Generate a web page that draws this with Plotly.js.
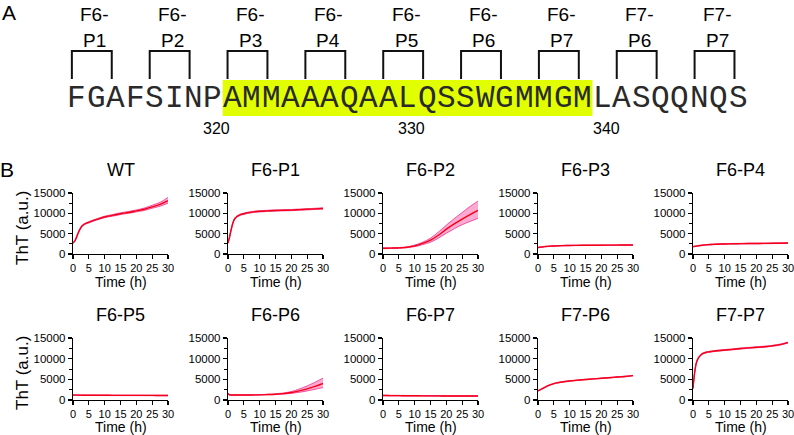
<!DOCTYPE html>
<html>
<head>
<meta charset="utf-8">
<script src="https://cdn.plot.ly/plotly-3.0.1.min.js"></script>
<style>html,body{margin:0;padding:0;background:#fff;}#chart{width:794px;height:435px;}</style>
</head>
<body>
<div id="chart"></div>
<script>
// ---------- Panel A data ----------
const sequence = "FGAFSINPAMMAAAQAALQSSWGMMGMLASQQNQS";
const highlightStart = 8;   // first highlighted residue index
const highlightEnd = 27;    // index after last highlighted residue
const peptideLines1 = ["F6-", "F6-", "F6-", "F6-", "F6-", "F6-", "F6-", "F7-", "F7-"];
const peptideLines2 = ["P1", "P2", "P3", "P4", "P5", "P6", "P7", "P6", "P7"];
const residueLabels = ["320", "330", "340"];
const residueLabelPos = [7.7, 17.7, 27.7];

// ---------- Panel B data ----------
const panelNames = ["WT", "F6-P1", "F6-P2", "F6-P3", "F6-P4", "F6-P5", "F6-P6", "F6-P7", "F7-P6", "F7-P7"];
const time = [0, 0.5, 1, 1.5, 2, 2.5, 3, 4, 5, 6, 7.5, 10, 12.5, 15, 17.5, 20, 22.5, 25, 27.5, 30];

const wtMean  = [2700, 3100, 3900, 4900, 5800, 6500, 7000, 7500, 7800, 8100, 8500, 9100, 9500, 9900, 10200, 10600, 11000, 11600, 12200, 13100];
const wtLow   = [2600, 3000, 3750, 4750, 5650, 6350, 6850, 7350, 7650, 7950, 8350, 8950, 9300, 9700, 10000, 10350, 10700, 11250, 11750, 12500];
const wtHigh  = [2800, 3200, 4050, 5050, 5950, 6650, 7150, 7650, 7950, 8250, 8650, 9300, 9700, 10150, 10450, 10850, 11300, 12000, 12700, 13900];

const p1Mean  = [2700, 4200, 6000, 7500, 8500, 9000, 9300, 9700, 9900, 10100, 10300, 10500, 10600, 10700, 10750, 10800, 10900, 11000, 11100, 11200];
const p1Low   = [2600, 4050, 5850, 7350, 8350, 8850, 9150, 9550, 9750, 9950, 10150, 10350, 10450, 10550, 10600, 10650, 10750, 10850, 10950, 11050];
const p1High  = [2800, 4350, 6150, 7650, 8650, 9150, 9450, 9850, 10050, 10250, 10450, 10650, 10750, 10850, 10900, 10950, 11050, 11150, 11250, 11350];

const p2Mean  = [1400, 1400, 1420, 1430, 1440, 1450, 1460, 1480, 1500, 1550, 1650, 2000, 2600, 3400, 4600, 6100, 7400, 8600, 9700, 10700];
const p2Low   = [1300, 1300, 1320, 1330, 1340, 1350, 1360, 1380, 1400, 1450, 1550, 1800, 2300, 2900, 3900, 5100, 6200, 7200, 8000, 8800];
const p2High  = [1500, 1500, 1520, 1530, 1540, 1550, 1560, 1580, 1600, 1650, 1750, 2200, 2900, 3900, 5400, 7100, 8700, 10200, 11700, 13000];

const p3Mean  = [1600, 1650, 1700, 1750, 1800, 1850, 1880, 1930, 1970, 2000, 2050, 2100, 2120, 2150, 2160, 2170, 2180, 2190, 2200, 2200];
const p3Low   = [1540, 1590, 1640, 1690, 1740, 1790, 1820, 1870, 1910, 1940, 1990, 2040, 2060, 2090, 2100, 2110, 2120, 2130, 2140, 2140];
const p3High  = [1660, 1710, 1760, 1810, 1860, 1910, 1940, 1990, 2030, 2060, 2110, 2160, 2180, 2210, 2220, 2230, 2240, 2250, 2260, 2260];

const p4Mean  = [1800, 1870, 1940, 2000, 2060, 2110, 2160, 2240, 2300, 2350, 2410, 2470, 2510, 2540, 2570, 2590, 2610, 2630, 2660, 2700];
const p4Low   = [1720, 1790, 1860, 1920, 1980, 2030, 2080, 2160, 2220, 2270, 2330, 2390, 2430, 2460, 2490, 2510, 2530, 2550, 2580, 2620];
const p4High  = [1880, 1950, 2020, 2080, 2140, 2190, 2240, 2320, 2380, 2430, 2490, 2550, 2590, 2620, 2650, 2670, 2690, 2710, 2740, 2780];

const p5Mean  = [1200, 1190, 1180, 1180, 1170, 1170, 1160, 1160, 1150, 1150, 1140, 1140, 1130, 1130, 1120, 1120, 1110, 1110, 1100, 1100];
const p5Low   = [1140, 1130, 1120, 1120, 1110, 1110, 1100, 1100, 1090, 1090, 1080, 1080, 1070, 1070, 1060, 1060, 1050, 1050, 1040, 1040];
const p5High  = [1260, 1250, 1240, 1240, 1230, 1230, 1220, 1220, 1210, 1210, 1200, 1200, 1190, 1190, 1180, 1180, 1170, 1170, 1160, 1160];

const p6Mean  = [1600, 1250, 1200, 1200, 1200, 1200, 1200, 1200, 1200, 1200, 1220, 1250, 1320, 1400, 1550, 1800, 2200, 2700, 3300, 4000];
const p6Low   = [1500, 1200, 1150, 1150, 1150, 1150, 1150, 1150, 1150, 1150, 1170, 1200, 1260, 1320, 1420, 1600, 1850, 2200, 2600, 3000];
const p6High  = [1700, 1300, 1250, 1250, 1250, 1250, 1250, 1250, 1250, 1250, 1270, 1300, 1380, 1500, 1700, 2050, 2650, 3400, 4300, 5300];

const p7Mean  = [1100, 1090, 1080, 1080, 1070, 1070, 1060, 1060, 1050, 1040, 1030, 1020, 1010, 1000, 990, 980, 970, 960, 955, 950];
const p7Low   = [1030, 1020, 1010, 1010, 1000, 1000, 990, 990, 980, 970, 960, 950, 940, 930, 920, 910, 900, 890, 885, 880];
const p7High  = [1170, 1160, 1150, 1150, 1140, 1140, 1130, 1130, 1120, 1110, 1100, 1090, 1080, 1070, 1060, 1050, 1040, 1030, 1025, 1020];

const f7p6Mean = [2200, 2400, 2600, 2800, 3000, 3200, 3400, 3700, 3950, 4150, 4350, 4600, 4800, 4950, 5100, 5250, 5400, 5550, 5700, 5900];
const f7p6Low  = [2130, 2330, 2530, 2730, 2930, 3130, 3330, 3630, 3880, 4080, 4280, 4530, 4730, 4880, 5030, 5180, 5330, 5480, 5630, 5830];
const f7p6High = [2270, 2470, 2670, 2870, 3070, 3270, 3470, 3770, 4020, 4220, 4420, 4670, 4870, 5020, 5170, 5320, 5470, 5620, 5770, 5970];

const f7p7Mean = [2800, 6500, 8800, 9900, 10500, 10900, 11200, 11500, 11650, 11750, 11900, 12100, 12250, 12450, 12600, 12750, 12900, 13100, 13400, 13900];
const f7p7Low  = [2680, 6350, 8650, 9770, 10380, 10780, 11080, 11380, 11530, 11630, 11780, 11980, 12130, 12330, 12480, 12630, 12780, 12980, 13280, 13780];
const f7p7High = [2920, 6650, 8950, 10030, 10620, 11020, 11320, 11620, 11770, 11870, 12020, 12220, 12370, 12570, 12720, 12870, 13020, 13220, 13520, 14020];

const yTickVals = [0, 5000, 10000, 15000];
const xTickVals = [0, 5, 10, 15, 20, 25, 30];

const means = [wtMean, p1Mean, p2Mean, p3Mean, p4Mean, p5Mean, p6Mean, p7Mean, f7p6Mean, f7p7Mean];
const lows  = [wtLow, p1Low, p2Low, p3Low, p4Low, p5Low, p6Low, p7Low, f7p6Low, f7p7Low];
const highs = [wtHigh, p1High, p2High, p3High, p4High, p5High, p6High, p7High, f7p6High, f7p7High];

// ---------- layout helpers ----------
const W = 794, H = 435;
const X = px => px / W;
const Y = py => 1 - py / H;
const colLeft = [73, 228, 383, 538, 693];
const plotW = 95;
const rowTop = [193, 338], rowBottom = [254, 400];
const titleY = [170, 315];
const timeY = [282, 427];

const RED = "#f50018";
const BAND_EDGE = "rgb(238,50,140)";
const BAND_FILL = "rgba(252,100,175,0.55)";
const FONT = "Liberation Sans, Arial, sans-serif";

const traces = [];
const layout = {
  width: W, height: H,
  margin: {l: 0, r: 0, t: 0, b: 0},
  paper_bgcolor: "#fff", plot_bgcolor: "rgba(0,0,0,0)",
  showlegend: false,
  font: {family: FONT, color: "#000"},
  annotations: [], shapes: []
};

panelNames.forEach((name, k) => {
  const r = Math.floor(k / 5), c = k % 5;
  const n = k + 1;
  const xa = "x" + n, ya = "y" + n;
  traces.push({x: time, y: lows[k], xaxis: xa, yaxis: ya, mode: "lines",
    line: {color: BAND_EDGE, width: 0.8, shape: "spline"}, hoverinfo: "skip"});
  traces.push({x: time, y: highs[k], xaxis: xa, yaxis: ya, mode: "lines", fill: "tonexty",
    fillcolor: BAND_FILL, line: {color: BAND_EDGE, width: 0.8, shape: "spline"}, hoverinfo: "skip"});
  traces.push({x: time, y: means[k], xaxis: xa, yaxis: ya, mode: "lines",
    line: {color: RED, width: 1.4, shape: "spline"}});
  layout["xaxis" + n] = {
    domain: [X(colLeft[c]), X(colLeft[c] + plotW)], anchor: ya,
    range: [0, 30], tickvals: xTickVals, showgrid: false, zeroline: false,
    showline: true, linecolor: "#000", linewidth: 1.2,
    ticks: "outside", ticklen: 4, tickwidth: 1.2, tickcolor: "#000",
    ticklabeloverflow: "allow",
    tickfont: {size: 11, family: FONT, color: "#000"}
  };
  layout["yaxis" + n] = {
    domain: [Y(rowBottom[r]), Y(rowTop[r])], anchor: xa,
    range: [0, 15000], tickvals: yTickVals, tickformat: "d", showgrid: false, zeroline: false,
    showline: true, linecolor: "#000", linewidth: 1.2,
    ticks: "outside", ticklen: 4, tickwidth: 1.2, tickcolor: "#000",
    ticklabeloverflow: "allow",
    minor: {dtick: 2500, tick0: 0, ticks: "outside", ticklen: 2.5, tickwidth: 1, tickcolor: "#000", showgrid: false},
    tickfont: {size: 11.5, family: FONT, color: "#000"}
  };
  const cx = X(colLeft[c] + plotW / 2);
  layout.annotations.push({text: name, x: cx, y: Y(titleY[r]), xref: "paper", yref: "paper",
    showarrow: false, xanchor: "center", yanchor: "middle", font: {size: 18, family: FONT, color: "#000"}});
  layout.annotations.push({text: "Time (h)", x: cx, y: Y(timeY[r]), xref: "paper", yref: "paper",
    showarrow: false, xanchor: "center", yanchor: "middle", font: {size: 14, family: FONT, color: "#000"}});
});

// y-axis titles
[228, 373].forEach(py => {
  layout.annotations.push({text: "ThT (a.u.)", x: X(22), y: Y(py), xref: "paper", yref: "paper",
    showarrow: false, textangle: -90, xanchor: "center", yanchor: "middle", font: {size: 17, family: FONT, color: "#000"}});
});

// panel letters
layout.annotations.push({text: "A", x: X(9), y: Y(12), xref: "paper", yref: "paper", showarrow: false,
  xanchor: "center", yanchor: "middle", font: {size: 21, family: FONT, color: "#000"}});
layout.annotations.push({text: "B", x: X(7), y: Y(170), xref: "paper", yref: "paper", showarrow: false,
  xanchor: "center", yanchor: "middle", font: {size: 21, family: FONT, color: "#000"}});

// ---------- Panel A: sequence axis (x in residue units, y in pixels) ----------
const charW = 19.46, seqLeft = 67;
layout.xaxis11 = {domain: [X(seqLeft), X(seqLeft + sequence.length * charW)], range: [0, sequence.length],
  anchor: "y11", visible: false, fixedrange: true};
layout.yaxis11 = {domain: [0, 1], range: [H, 0], anchor: "x11", visible: false, fixedrange: true};
// invisible trace so the panel-A axes exist
traces.push({x: [0], y: [0], xaxis: "x11", yaxis: "y11", mode: "markers", marker: {opacity: 0}, hoverinfo: "skip"});

layout.shapes.push({type: "rect", xref: "x11", yref: "y11", x0: highlightStart, x1: highlightEnd, y0: 80, y1: 116,
  fillcolor: "#e1ff00", line: {width: 0}, layer: "below"});

sequence.split("").forEach((ch, i) => {
  layout.annotations.push({text: ch, x: i + 0.5, y: 98, xref: "x11", yref: "y11", showarrow: false,
    xanchor: "center", yanchor: "middle", font: {size: 31, family: "Liberation Mono, Courier New, monospace", color: "#2a2a2a"}});
});

peptideLines1.forEach((l1, i) => {
  const left = 4 * i + 0.25, right = left + 2.05;
  layout.shapes.push({type: "path", xref: "x11", yref: "y11",
    path: `M ${left} 79 L ${left} 51 L ${right} 51 L ${right} 79`, line: {color: "#111", width: 2}});
  const mid = (left + right) / 2 + 0.15;
  layout.annotations.push({text: l1, x: mid, y: 14, xref: "x11", yref: "y11", showarrow: false,
    xanchor: "center", yanchor: "middle", font: {size: 19, family: FONT, color: "#000"}});
  layout.annotations.push({text: peptideLines2[i], x: mid, y: 40, xref: "x11", yref: "y11", showarrow: false,
    xanchor: "center", yanchor: "middle", font: {size: 19, family: FONT, color: "#000"}});
});

residueLabels.forEach((t, i) => {
  layout.annotations.push({text: t, x: residueLabelPos[i], y: 128, xref: "x11", yref: "y11", showarrow: false,
    xanchor: "center", yanchor: "middle", font: {size: 16, family: FONT, color: "#000"}});
});

Plotly.newPlot("chart", traces, layout, {staticPlot: true, displayModeBar: false});
</script>
</body>
</html>
